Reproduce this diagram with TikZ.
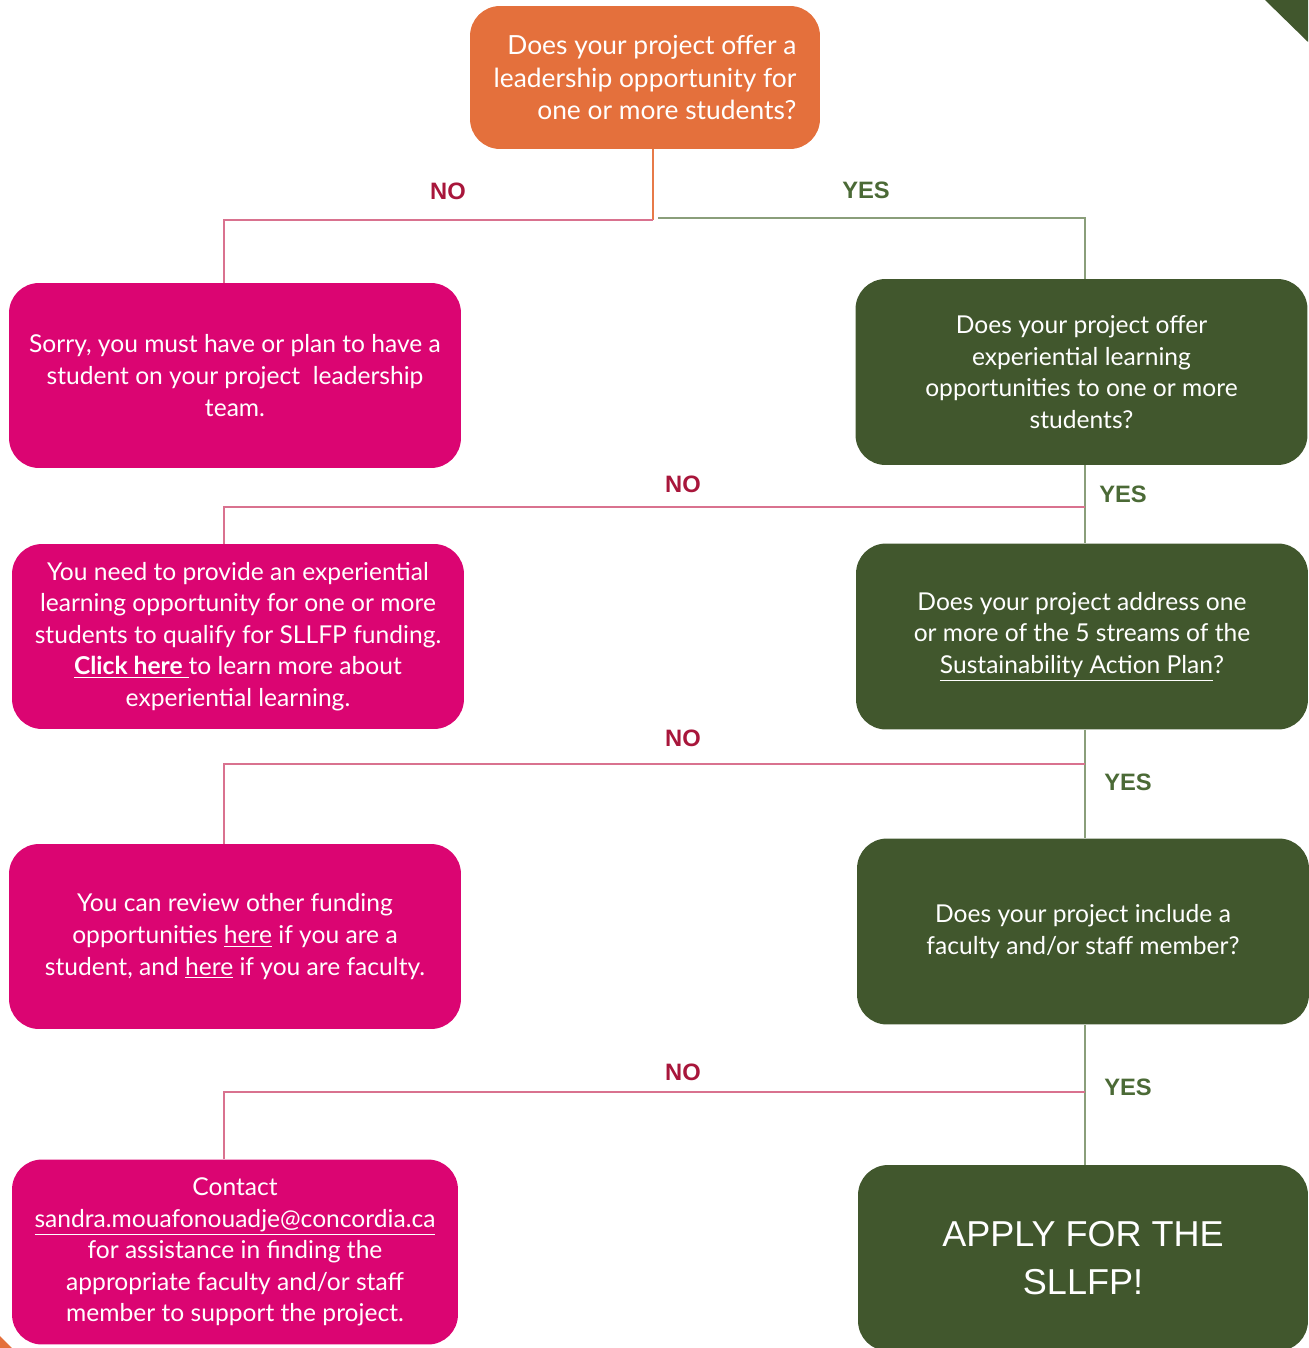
\documentclass[tikz,border=0pt]{standalone}
\usepackage{fontspec}
\setmainfont{Lato}
\newfontfamily\labelfont{Liberation Sans}

\definecolor{boxorange}{HTML}{E4703C}
\definecolor{boxpink}{HTML}{DB0572}
\definecolor{boxgreen}{HTML}{41572D}
\definecolor{linepink}{HTML}{D9728F}
\definecolor{linegreen}{HTML}{8A9E7A}
\definecolor{lineorange}{HTML}{E77A48}
\definecolor{nored}{HTML}{A8163B}
\definecolor{yesgreen}{HTML}{4B6A36}

\tikzset{
	box/.style = {rounded corners=0.6cm, text=white, align=center, inner sep=0pt,
		font=\fontsize{14}{18}\selectfont},
	orangebox/.style = {box, fill=boxorange, align=right, minimum width=7cm, minimum height=2.86cm,
		font=\fontsize{15}{18.5}\selectfont},
	pinkbox/.style = {box, fill=boxpink, minimum width=9.04cm, minimum height=3.7cm},
	greenbox/.style = {box, fill=boxgreen, minimum width=9.04cm, minimum height=3.72cm},
	noline/.style = {draw=linepink, line width=1pt},
	yesline/.style = {draw=linegreen, line width=1pt},
	nolabel/.style = {text=nored, font=\labelfont\bfseries\fontsize{13.5}{15}\selectfont},
	yeslabel/.style = {text=yesgreen, font=\labelfont\bfseries\fontsize{13.5}{15}\selectfont},
}

\begin{document}
\begin{tikzpicture}[x=0.02cm, y=-0.02cm]
	\useasboundingbox (0,0) rectangle (1308,1348);
	% corner pieces
	\fill [boxgreen] (1265,0) -- (1308,0) -- (1308,42) -- cycle;
	\fill [boxorange] (0,1336) -- (12,1348) -- (0,1348) -- cycle;

	% question boxes (right) and answers (left)
	\node [orangebox] (q1) at (645,77.5) {Does your project offer a\\leadership opportunity for\\one or more students?};

	\node [pinkbox] (s1) at (235,375.5) {Sorry, you must have or plan to have a\\student on your project\ \ leadership\\team.};
	\node [greenbox] (g1) at (1081.5,372) {Does your project offer\\experiential learning\\opportunities to one or more\\students?};

	\node [pinkbox] (s2) at (238,636.5) {You need to provide an experiential\\learning opportunity for one or more\\students to qualify for SLLFP funding.\\\underline{\textbf{Click here }}to learn more about\\experiential learning.};
	\node [greenbox] (g2) at (1082,636.5) {Does your project address one\\or more of the 5 streams of the\\\underline{Sustainability Action Plan}?};

	\node [pinkbox] (s3) at (235,936.5) {You can review other funding\\opportunities \underline{here} if you are a\\student, and \underline{here} if you are faculty.};
	\node [greenbox] (g3) at (1083,931.5) {Does your project include a\\faculty and/or staff member?};

	\node [pinkbox, minimum width=8.92cm] (s4) at (235,1252) {Contact\\\underline{sandra.mouafonouadje@concordia.ca}\\for assistance in finding the\\appropriate faculty and/or staff\\member to support the project.};
	\node [greenbox, minimum width=9cm, font=\labelfont\fontsize{20.5}{27}\selectfont] (g4) at (1083,1258) {APPLY FOR THE\\SLLFP!};

	% first split
	\coordinate (t1) at (653,220);
	\coordinate (n1) at (224,220);
	\coordinate (y1) at (658,218);
	\coordinate (r1) at (1085,218);
	\draw [draw=lineorange, line width=1pt] (t1 |- q1.south) -- (t1);
	\draw [noline] (t1) -- (n1) -- (n1 |- s1.north);
	\draw [yesline] (y1) -- (r1) -- (r1 |- g1.north);
	\node [nolabel] (no1) at (448,191) {NO};
	\node [yeslabel] (yes1) at (866,190) {YES};

	% second split
	\coordinate (r2) at (1085,507);
	\coordinate (n2) at (224,507);
	\draw [yesline] (r1 |- g1.south) -- (r1 |- g2.north);
	\draw [noline] (r2) -- (n2) -- (n2 |- s2.north);
	\node [nolabel] (no2) at (683,484) {NO};
	\node [yeslabel] (yes2) at (1123,494) {YES};

	% third split
	\coordinate (r3) at (1085,764);
	\coordinate (n3) at (224,764);
	\draw [yesline] (r1 |- g2.south) -- (r1 |- g3.north);
	\draw [noline] (r3) -- (n3) -- (n3 |- s3.north);
	\node [nolabel] (no3) at (683,738) {NO};
	\node [yeslabel] (yes3) at (1128,782) {YES};

	% last split
	\coordinate (r4) at (1085,1092);
	\coordinate (n4) at (224,1092);
	\draw [yesline] (r1 |- g3.south) -- (r1 |- g4.north);
	\draw [noline] (r4) -- (n4) -- (n4 |- s4.north);
	\node [nolabel] (no4) at (683,1072) {NO};
	\node [yeslabel] (yes4) at (1128,1087) {YES};
\end{tikzpicture}
\end{document}
